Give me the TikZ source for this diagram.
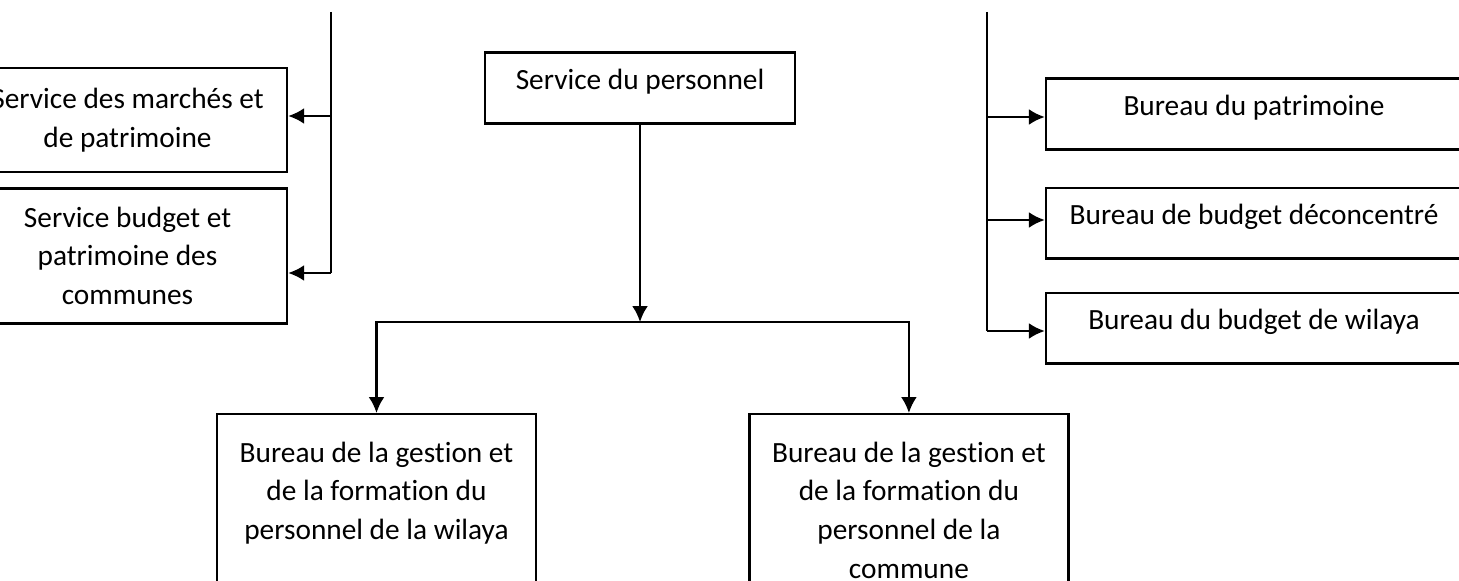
\documentclass[tikz,border=0pt]{standalone}
\usepackage{fontspec}
\setmainfont[Ligatures=NoCommon]{Carlito}
\usepackage{tikz}
\usetikzlibrary{
    arrows.meta,
    positioning,
}
\tikzstyle{arrow}=[-{Latex[length=12pt, width=12pt]}]
\tikzset{every picture/.style={line width=1.8pt}}
\tikzset{
    box/.style={draw, align=flush center, inner sep=0pt, font=\fontsize{22pt}{29pt}\selectfont},
    sidebox/.style={box, minimum width=239.25pt},
    onebox/.style={box, minimum height=53pt, text height=16pt, text depth=13.5pt},
    tallbox/.style={box, text width=239.25pt, text height=36pt, text depth=104pt},
}

\begin{document}
\begin{tikzpicture}[x=0.75pt, y=-0.75pt]
    \useasboundingbox (0,0) rectangle (1459,581);
    \node[sidebox, minimum height=78pt] (marches) at (127.5,120) {Service des marchés et\\de patrimoine};
    \node[sidebox, minimum height=101.25pt, below=10.5pt of marches] (budgetcom) {Service budget et\\patrimoine des\\communes};
    \node[onebox, minimum width=232.5pt] (personnel) at (640,88) {Service du personnel};
    \node[onebox, minimum width=312pt] (bpatrim) at (1254,114) {Bureau du patrimoine};
    \node[onebox, minimum width=312pt, below=27pt of bpatrim] (bdeconc) {Bureau de budget déconcentré};
    \node[onebox, minimum width=312pt, below=24pt of bdeconc] (bwilaya) {Bureau du budget de wilaya};
    \node[tallbox, anchor=north] (gestwil) at (376.5,413) {Bureau de la gestion et\\de la formation du\\personnel de la wilaya};
    \node[tallbox, right=158.25pt of gestwil] (gestcom) {Bureau de la gestion et\\de la formation du\\personnel de la\\commune};

    \coordinate (ltop) at (331,12);
    \coordinate (lmid) at (331,116);
    \coordinate (lbot) at (331,273);
    \draw (ltop) -- (lbot);
    \draw[arrow] (lmid) -- (lmid -| marches.east);
    \draw[arrow] (lbot) -- (lbot -| budgetcom.east);

    \coordinate (rtop) at (987,12);
    \coordinate (rone) at (987,117);
    \coordinate (rtwo) at (987,220);
    \coordinate (rbot) at (987,331);
    \draw (rtop) -- (rbot);
    \draw[arrow] (rone) -- (rone -| bpatrim.west);
    \draw[arrow] (rtwo) -- (rtwo -| bdeconc.west);
    \draw[arrow] (rbot) -- (rbot -| bwilaya.west);

    \coordinate (busm) at (640,322);
    \draw[arrow] (personnel) -- (busm);
    \draw[arrow] (busm) -| (gestwil.north);
    \draw[arrow] (busm) -| (gestcom.north);
\end{tikzpicture}
\end{document}
